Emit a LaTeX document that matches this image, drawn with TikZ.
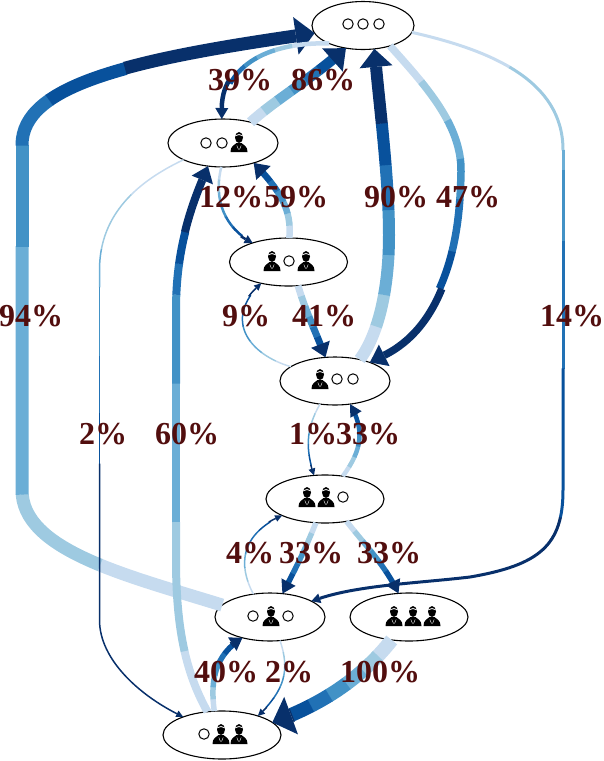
\documentclass[tikz,border=0pt]{standalone}
\usepackage{fontspec}
\setmainfont{Liberation Serif}
\usetikzlibrary{shapes.geometric,arrows.meta,decorations.markings}
\definecolor{cA}{HTML}{C6DBEF}
\definecolor{cB}{HTML}{9ECAE1}
\definecolor{cC}{HTML}{6BAED6}
\definecolor{cD}{HTML}{4292C6}
\definecolor{cE}{HTML}{2171B5}
\definecolor{cF}{HTML}{08519C}
\definecolor{cG}{HTML}{08306B}
\definecolor{lab}{HTML}{520E0E}
\tikzset{
  state/.style={draw=black,line width=1.1pt,ellipse,inner sep=0pt,outer sep=0pt,minimum height=48pt},
  wide/.style={state,minimum width=110pt},
  wider/.style={state,minimum width=118pt},
  pct/.style={text=lab,inner sep=0pt,font=\fontsize{32}{32}\selectfont\bfseries},
  seat/.pic={\draw[black,fill=white,line width=1pt] (0,0) circle (5.2);},
  man/.pic={
    \fill[black] (0,-4.5) ellipse [x radius=4,y radius=5.5];
    \draw[white,line width=.8pt] (-3.6,-6.3) .. controls (-1,-7.8) and (1,-7.8) .. (3.6,-6.3);
    \fill[black] (-8.5,10) .. controls (-8.5,4) and (-5,3.5) .. (-2.5,1) -- (2.5,1) .. controls (5,3.5) and (8.5,4) .. (8.5,10) -- cycle;
    \draw[white,line width=.4pt] (-2.2,3.5) -- (-.5,7.5) (2.2,3.5) -- (.5,7.5);
  }
}
\newcommand\gpiece[5]{%
  \pgfmathsetmacro\gon{(#4-#3)*\glen+0.4}%
  \pgfmathsetmacro\goff{\glen+5}%
  \pgfmathsetmacro\gphase{\gon+\goff-#3*\glen}%
  \draw[#1,color=#2,dash pattern=on \gon pt off \goff pt,dash phase=\gphase pt] #5;%
}
\def\gsplit#1,#2,#3,#4,#5,#6\relax#7#8{%
  \def\glastv{#6}%
  \gpiece{#8}{cA}{0}{#1}{#7}%
  \gpiece{#8}{cB}{#1}{#2}{#7}%
  \gpiece{#8}{cC}{#2}{#3}{#7}%
  \gpiece{#8}{cD}{#3}{#4}{#7}%
  \gpiece{#8}{cE}{#4}{#5}{#7}%
  \gpiece{#8}{cF}{#5}{#6}{#7}%
}
% width, tip length, tip width, six breakpoints, path
\newcommand\gedge[5]{%
  \path[decorate,decoration={markings,mark=at position 0.5 with {\pgfmathsetmacro\gtmp{\pgfdecoratedpathlength}\xdef\glen{\gtmp}}}] #5;%
  \edef\gfr{#4}%
  \expandafter\gsplit\gfr\relax{#5}{line width=#1pt}%
  \gpiece{line width=#1pt,-{Triangle[length=#2pt,width=#3pt,line width=0pt]}}{cG}{\glastv}{1}{#5}%
}
\def\even{.143,.286,.429,.571,.714,.857}
\begin{document}
\begin{tikzpicture}[x=1pt,y=-1pt]
\useasboundingbox (0,0) rectangle (604,761);
% states
\node[state,minimum width=102pt] (n0) at (363,25.5) {};
\node[wide]  (n1) at (223,143) {};
\node[wider] (n2) at (288.5,262) {};
\node[wide]  (n3) at (335,381) {};
\node[wider] (n4) at (325,499) {};
\node[wide]  (n5) at (270,617) {};
\node[wider] (n6) at (409,617) {};
\node[wider] (n7) at (222,735) {};
% occupants
\pic at (348,24) {seat}; \pic at (363,24) {seat}; \pic at (379,24) {seat};
\pic at (206,143) {seat}; \pic at (222,143) {seat}; \pic at (239,142) {man};
\pic at (272,261) {man}; \pic at (289,261) {seat}; \pic at (306,261) {man};
\pic at (320,379) {man}; \pic at (337,379) {seat}; \pic at (353,379) {seat};
\pic at (307,497) {man}; \pic at (326,497) {man}; \pic at (343,497) {seat};
\pic at (253,616) {seat}; \pic at (271,616) {man}; \pic at (288,616) {seat};
\pic at (394,616) {man}; \pic at (413,616) {man}; \pic at (432,616) {man};
\pic at (204,734) {seat}; \pic at (221,734) {man}; \pic at (239,734) {man};
% transitions
\gedge{13}{19}{38}{.14,.26,.53,.64,.70,.79}{(n5.166.5) .. controls (125,575) and (22,550) .. (22,490) -- (22,145) .. controls (22,85) and (130,60) .. (n0.189.3)}
\gedge{4.5}{11}{13}{.25,.37,.5,.6,.68,.75}{(n0.208) .. controls (285,42) and (222,55) .. (n1.93)}
\gedge{10.5}{18}{31}{\even}{(n1.37) .. controls (275,100) and (310,80) .. (n0.233)}
\gedge{12}{18}{33}{.117,.22,.347,.489,.631,.763}{(n3.41) .. controls (378,335) and (389,290) .. (389,235) .. controls (389,180) and (380,110) .. (n0.296)}
\gedge{7.5}{16}{24}{.128,.254,.364,.473,.615,.72}{(n0.323) .. controls (425,85) and (462,125) .. (461,172) .. controls (460,220) and (455,320) .. (n3.28.5)}
\gedge{3}{9}{10}{.122,.244,.267,.35,.50,.675}{(n0.352) .. controls (490,50) and (563,80) .. (563,150) -- (563,490) .. controls (563,545) and (540,565) .. (470,577) .. controls (420,583) and (360,585) .. (n5.21)}
\gedge{2.5}{8}{9}{\even}{(n1.266) .. controls (213,200) and (225,228) .. (n2.152.5)}
\gedge{6.5}{14}{20}{\even}{(n2.88) .. controls (292,210) and (280,190) .. (n1.327)}
\gedge{8}{15}{23}{.117,.35,.60,.76,.816,.874}{(n7.122) .. controls (190,680) and (176,640) .. (176,560) -- (176,310) .. controls (176,250) and (190,210) .. (n1.237)}
\gedge{7}{14}{20}{\even}{(n2.292) .. controls (305,310) and (315,330) .. (n3.112)}
\gedge{1.5}{7}{7}{\even}{(n3.162) .. controls (250,355) and (222,320) .. (n2.218)}
\gedge{1.5}{7}{7}{\even}{(n3.237) .. controls (305,430) and (306,450) .. (n4.115)}
\gedge{4.5}{12}{13}{\even}{(n4.52) .. controls (362,450) and (365,430) .. (n3.303)}
\gedge{1.5}{7}{7}{\even}{(n5.126.5) .. controls (238,565) and (240,535) .. (n4.201.6)}
\gedge{5.5}{13}{16}{\even}{(n4.249) .. controls (305,550) and (295,570) .. (n5.62)}
\gedge{5.5}{13}{16}{\even}{(n4.314) .. controls (365,545) and (385,565) .. (n6.114)}
\gedge{14}{20}{40}{\even}{(n6.233.5) .. controls (360,680) and (320,705) .. (n7.14.6)}
\gedge{5.5}{12}{16}{\even}{(n7.108) .. controls (210,680) and (215,655) .. (n5.217)}
\gedge{1.5}{7}{7}{\even}{(n5.293) .. controls (290,670) and (285,690) .. (n7.28.5)}
\gedge{1.5}{7}{7}{.1,.2,.26,.37,.46,.54}{(n1.203) .. controls (130,185) and (99.5,220) .. (99.5,270) -- (99.5,620) .. controls (99.5,660) and (140,695) .. (n7.155)}
% labels
\node[pct] (l01) at (240,80) {39\%};
\node[pct] (l02) at (323,80) {86\%};
\node[pct] (l03) at (231,197) {12\%};
\node[pct] (l04) at (296,197) {59\%};
\node[pct] (l05) at (396,197) {90\%};
\node[pct] (l06) at (468,197) {47\%};
\node[pct] (l07) at (31,316) {94\%};
\node[pct] (l08) at (246,316) {9\%};
\node[pct] (l09) at (324,316) {41\%};
\node[pct] (l10) at (572,316) {14\%};
\node[pct] (l11) at (103,434) {2\%};
\node[pct] (l12) at (187,434) {60\%};
\node[pct] (l13) at (313,434) {1\%};
\node[pct] (l14) at (368,434) {33\%};
\node[pct] (l15) at (250,553) {4\%};
\node[pct] (l16) at (311,553) {33\%};
\node[pct] (l17) at (389,553) {33\%};
\node[pct] (l18) at (226,672) {40\%};
\node[pct] (l19) at (289,672) {2\%};
\node[pct] (l20) at (380,672) {100\%};
\end{tikzpicture}
\end{document}
